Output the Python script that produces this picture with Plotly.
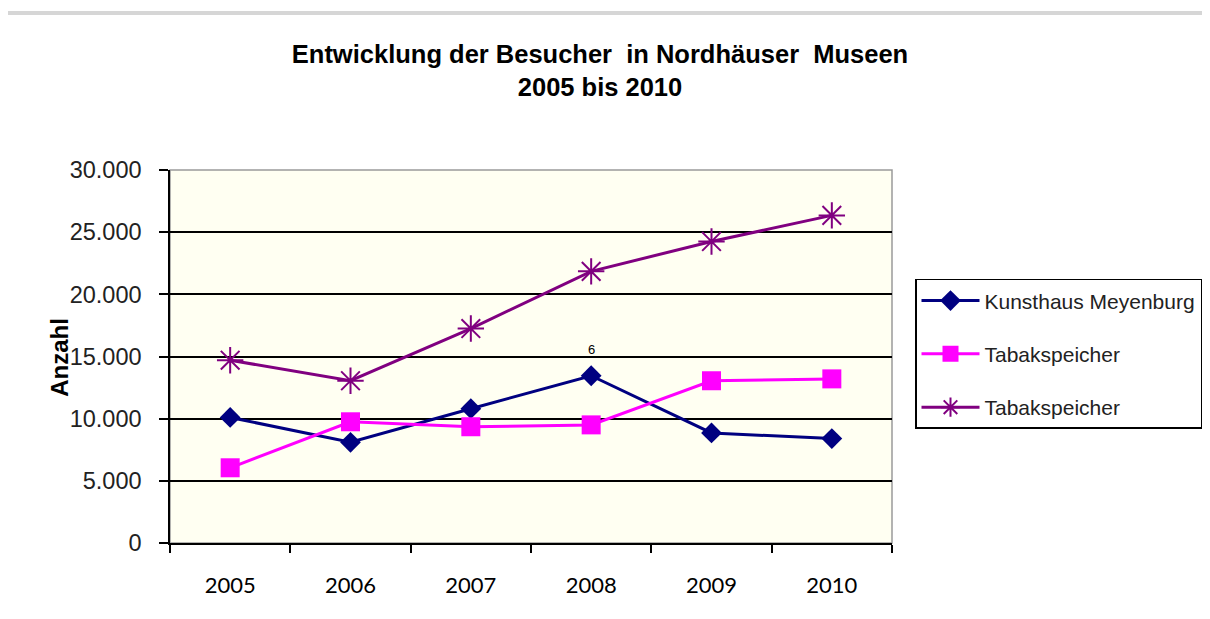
import plotly.graph_objects as go

years = ["2005", "2006", "2007", "2008", "2009", "2010"]
kunsthaus = [10100, 8100, 10800, 13450, 8850, 8400]
tabak_pink = [6050, 9750, 9350, 9500, 13050, 13200]
tabak_purple = [14700, 13050, 17250, 21850, 24250, 26350]
y_ticks = [0, 5000, 10000, 15000, 20000, 25000, 30000]

fig = go.Figure()
fig.add_trace(go.Scatter(x=years, y=kunsthaus, name="Kunsthaus Meyenburg", mode="lines+markers",
                         line=dict(color="#000080", width=3),
                         marker=dict(symbol="diamond", size=16, color="#000080"),
                         legendgroup="a"))
fig.add_trace(go.Scatter(x=years, y=tabak_pink, name="Tabakspeicher", mode="lines+markers",
                         line=dict(color="#FF00FF", width=3),
                         marker=dict(symbol="square", size=19, color="#FF00FF"),
                         legendgroup="b"))
fig.add_trace(go.Scatter(x=years, y=tabak_purple, name="Tabakspeicher", mode="lines+markers",
                         line=dict(color="#800080", width=3),
                         marker=dict(symbol="asterisk-open", size=22, color="#800080",
                                     line=dict(color="#800080", width=2)),
                         legendgroup="c"))

fig.add_annotation(x=years.index("2008"), y=kunsthaus[3], text="6", showarrow=False, yshift=26,
                   font=dict(family="Liberation Sans", size=13, color="#000"))
fig.add_annotation(x=-0.174, y=0.499, xref="paper", yref="paper", text="<b>Anzahl</b>",
                   textangle=-90, showarrow=False,
                   font=dict(family="Liberation Sans", size=24, color="#000"))

# outer chart frame
fig.add_shape(type="rect", xref="paper", yref="paper", x0=-0.2285, x1=1.45, y0=-0.25, y1=1.421,
              line=dict(color="#d6d6d6", width=4), layer="below")
# plot area border (gray)
fig.add_shape(type="rect", xref="paper", yref="paper", x0=0, x1=1, y0=0, y1=1,
              line=dict(color="#9a9a9a", width=1.5), layer="below")

fig.update_layout(
    width=1202, height=611,
    margin=dict(l=162, r=318, t=162, b=76, autoexpand=False),
    paper_bgcolor="white",
    plot_bgcolor="#FFFFF2",
    separators=",.",
    title=dict(text="Entwicklung der Besucher  in Nordhäuser  Museen<br>2005 bis 2010",
               x=592 / 1202, xanchor="center", y=1 - 55 / 611, yanchor="top",
               font=dict(family="Liberation Sans", size=25.5, color="#000", weight="bold")),
    legend=dict(x=(907 - 162) / 722, y=0.708, xanchor="left", yanchor="top",
                bordercolor="#000", borderwidth=1.5, bgcolor="white",
                font=dict(family="Liberation Sans", size=21, color="#222"),
                itemwidth=58,
                traceorder="grouped", tracegroupgap=23),
    showlegend=True,
)
fig.update_xaxes(type="category", range=[-0.5, 5.5], showgrid=False,
                 showline=True, linecolor="#000", linewidth=1.5,
                 ticks="outside", tickson="boundaries", ticklen=8, tickcolor="#000", tickwidth=1.5,
                 ticklabelstandoff=22,
                 tickfont=dict(family="Lato", size=22, color="#000"))
fig.update_yaxes(range=[0, 30000], tickvals=y_ticks, tickformat=",d",
                 showgrid=True, gridcolor="#000", gridwidth=1.5, zeroline=False,
                 showline=True, linecolor="#000", linewidth=1.5,
                 ticks="outside", ticklen=9, tickcolor="#000", tickwidth=1.5,
                 ticklabelstandoff=13,
                 tickfont=dict(family="Liberation Sans", size=23.5, color="#222"))

fig.write_html("out.html")
